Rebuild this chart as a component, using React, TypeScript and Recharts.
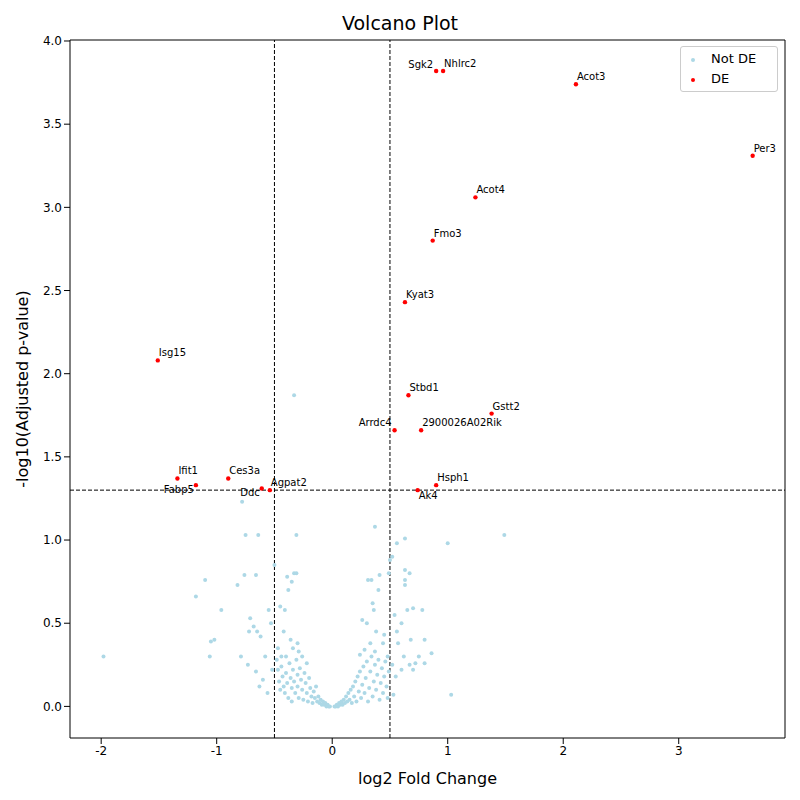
import React from 'react';
import {
    ScatterChart,
    Scatter,
    XAxis,
    YAxis,
    ReferenceLine,
} from 'recharts';

interface Gene {
    name: string;
    x: number;
    y: number;
}

const deGenes: Gene[] = [
    { name: 'Sgk2', x: 0.90, y: 3.82 },
    { name: 'Nhlrc2', x: 0.96, y: 3.82 },
    { name: 'Acot3', x: 2.11, y: 3.74 },
    { name: 'Per3', x: 3.64, y: 3.31 },
    { name: 'Acot4', x: 1.24, y: 3.06 },
    { name: 'Fmo3', x: 0.87, y: 2.80 },
    { name: 'Kyat3', x: 0.63, y: 2.43 },
    { name: 'Isg15', x: -1.51, y: 2.08 },
    { name: 'Stbd1', x: 0.66, y: 1.87 },
    { name: 'Gstt2', x: 1.38, y: 1.76 },
    { name: 'Arrdc4', x: 0.54, y: 1.66 },
    { name: '2900026A02Rik', x: 0.77, y: 1.66 },
    { name: 'Ifit1', x: -1.34, y: 1.37 },
    { name: 'Fabp5', x: -1.18, y: 1.33 },
    { name: 'Ces3a', x: -0.90, y: 1.37 },
    { name: 'Ddc', x: -0.61, y: 1.31 },
    { name: 'Agpat2', x: -0.54, y: 1.30 },
    { name: 'Hsph1', x: 0.90, y: 1.33 },
    { name: 'Ak4', x: 0.74, y: 1.30 },
];

// label placement: [dx, dy, anchor]
const labelPlacement: Record<string, [number, number, 'start' | 'end']> = {
    Sgk2: [-3, -3, 'end'],
    Arrdc4: [-3, -4, 'end'],
    Fabp5: [-2, 8, 'end'],
    Ddc: [-2, 8, 'end'],
    Ak4: [1, 9, 'start'],
};

const notDe: [number, number][] = [
    [-1.98, 0.30], [-0.33, 1.87], [-0.78, 1.23], [0.37, 1.08], [-0.75, 1.03], [-0.64, 1.03],
    [-0.31, 1.03], [1.49, 1.03], [1.0, 0.98], [0.56, 0.98], [0.63, 1.01], [-1.1, 0.76],
    [-1.18, 0.66], [-0.96, 0.58], [-1.05, 0.39], [-1.02, 0.40], [-1.06, 0.30], [-0.82, 0.73],
    [-0.76, 0.79], [-0.66, 0.79], [-0.71, 0.53], [-0.72, 0.45], [-0.65, 0.45], [-0.68, 0.48],
    [-0.62, 0.42], [-0.58, 0.30], [-0.79, 0.30], [-0.73, 0.25], [-0.66, 0.21], [-0.60, 0.16],
    [-0.63, 0.12], [-0.55, 0.58], [-0.53, 0.50], [-0.50, 0.85], [-0.45, 0.60], [-0.41, 0.58],
    [-0.38, 0.70], [-0.35, 0.75], [-0.33, 0.80], [-0.31, 0.80], [-0.39, 0.78], [-0.42, 0.45],
    [-0.36, 0.40], [-0.30, 0.38], [-0.56, 0.08], [-0.52, 0.22], [-0.47, 0.35], [-0.44, 0.30],
    [0.31, 0.76], [0.34, 0.76], [0.41, 0.79], [0.40, 0.70], [0.35, 0.62], [0.36, 0.58],
    [0.52, 0.90], [0.50, 0.88], [0.49, 0.80], [0.63, 0.76], [0.63, 0.73], [0.63, 0.82],
    [0.67, 0.80], [0.65, 0.58], [0.70, 0.59], [0.78, 0.58], [0.80, 0.40], [0.86, 0.32],
    [0.68, 0.40], [0.60, 0.50], [0.54, 0.55], [0.56, 0.45], [0.57, 0.38], [0.62, 0.30],
    [0.72, 0.26], [0.70, 0.22], [0.67, 0.25], [0.60, 0.22], [0.55, 0.18], [0.53, 0.07],
    [1.03, 0.07], [0.45, 0.43], [0.38, 0.45], [0.30, 0.50], [0.26, 0.52], [0.44, 0.38],
    [0.75, 0.30], [0.80, 0.26], [0.48, 0.30], [0.52, 0.25],
    // dense left arm
    [-0.48, 0.28], [-0.47, 0.22], [-0.46, 0.15], [-0.45, 0.10], [-0.44, 0.24], [-0.43, 0.18],
    [-0.42, 0.12], [-0.41, 0.08], [-0.40, 0.30], [-0.40, 0.20], [-0.39, 0.14], [-0.38, 0.05],
    [-0.37, 0.26], [-0.36, 0.17], [-0.35, 0.11], [-0.35, 0.03], [-0.34, 0.22], [-0.33, 0.15],
    [-0.32, 0.08], [-0.31, 0.28], [-0.30, 0.19], [-0.30, 0.12], [-0.29, 0.05], [-0.28, 0.23],
    [-0.27, 0.16], [-0.26, 0.10], [-0.25, 0.04], [-0.24, 0.20], [-0.23, 0.14], [-0.22, 0.08],
    [-0.21, 0.03], [-0.20, 0.17], [-0.19, 0.11], [-0.18, 0.06], [-0.17, 0.02], [-0.16, 0.09],
    [-0.15, 0.05], [-0.14, 0.12], [-0.13, 0.03], [-0.12, 0.06], [-0.11, 0.02], [-0.10, 0.04],
    [-0.09, 0.01], [-0.08, 0.03], [-0.07, 0.01], [-0.06, 0.02], [-0.05, 0.00], [-0.04, 0.01],
    [-0.03, 0.00], [-0.02, 0.00], [-0.26, 0.30], [-0.22, 0.26], [-0.34, 0.35], [-0.29, 0.33],
    // dense right arm
    [0.02, 0.00], [0.03, 0.00], [0.04, 0.01], [0.05, 0.00], [0.06, 0.02], [0.07, 0.01],
    [0.08, 0.03], [0.09, 0.01], [0.10, 0.04], [0.11, 0.02], [0.12, 0.06], [0.13, 0.03],
    [0.14, 0.08], [0.15, 0.04], [0.16, 0.10], [0.17, 0.02], [0.18, 0.12], [0.19, 0.06],
    [0.20, 0.15], [0.21, 0.03], [0.22, 0.18], [0.23, 0.09], [0.24, 0.21], [0.25, 0.05],
    [0.26, 0.13], [0.27, 0.24], [0.28, 0.08], [0.29, 0.17], [0.30, 0.27], [0.31, 0.03],
    [0.32, 0.11], [0.33, 0.21], [0.34, 0.30], [0.35, 0.06], [0.36, 0.15], [0.37, 0.25],
    [0.38, 0.10], [0.39, 0.19], [0.40, 0.28], [0.41, 0.04], [0.42, 0.14], [0.43, 0.23],
    [0.44, 0.08], [0.45, 0.18], [0.46, 0.27], [0.47, 0.12], [0.48, 0.05], [0.49, 0.21],
    [0.24, 0.31], [0.28, 0.34], [0.33, 0.38], [0.37, 0.33],
];

const notDeData = notDe.map(([x, y]) => ({ x, y }));

const xTicks = [-2, -1, 0, 1, 2, 3];
const yTicks = [0, 0.5, 1, 1.5, 2, 2.5, 3, 3.5, 4];
const fcCut = 0.5;
const pCut = 1.3;

const font = 'DejaVu Sans, sans-serif';

const DeShape = (props: any) => {
    const { cx, cy, payload } = props;
    const p = labelPlacement[payload.name] ?? [1, -4, 'start'];
    return (
        <g>
            <circle cx={cx} cy={cy} r={2.2} fill="red" />
            <text x={cx + p[0]} y={cy + p[1]} textAnchor={p[2]} fontSize={10} fontFamily={font} fill="#000">
                {payload.name}
            </text>
        </g>
    );
};

const NotDeShape = (props: any) => (
    <circle cx={props.cx} cy={props.cy} r={2} fill="#add8e6" />
);

export default function App() {
    return (
        <div style={{ position: 'relative', width: 800, height: 800, margin: -8, fontFamily: font, background: '#fff' }}>
            <div style={{ position: 'absolute', top: 12, width: '100%', textAlign: 'center', fontSize: 19 }}>Volcano Plot</div>
            <ScatterChart width={800} height={800} margin={{ top: 40, right: 15, bottom: 0, left: 0 }}>
                <XAxis
                    type="number"
                    dataKey="x"
                    domain={[-2.27, 3.92]}
                    ticks={xTicks}
                    allowDataOverflow
                    height={62}
                    stroke="#000"
                    tick={{ fill: '#000', fontSize: 12, fontFamily: font }}
                    label={{ value: 'log2 Fold Change', position: 'insideBottom', offset: 16, fill: '#000', fontSize: 16 }}
                />
                <YAxis
                    type="number"
                    dataKey="y"
                    domain={[-0.19, 4.006]}
                    ticks={yTicks}
                    allowDataOverflow
                    width={70}
                    stroke="#000"
                    tickFormatter={(v: number) => v.toFixed(1)}
                    tick={{ fill: '#000', fontSize: 12, fontFamily: font }}
                    label={{ value: '-log10(Adjusted p-value)', angle: -90, position: 'insideLeft', offset: 22, fill: '#000', fontSize: 16, style: { textAnchor: 'middle' } }}
                />
                <ReferenceLine x={-fcCut} stroke="#000" strokeDasharray="4 2" />
                <ReferenceLine x={fcCut} stroke="#000" strokeDasharray="4 2" />
                <ReferenceLine y={pCut} stroke="#000" strokeDasharray="4 2" />
                <Scatter data={notDeData} shape={NotDeShape} isAnimationActive={false} />
                <Scatter data={deGenes} shape={DeShape} isAnimationActive={false} />
                {/* frame */}
                <ReferenceLine y={4.006} stroke="#000" />
                <ReferenceLine x={3.92} stroke="#000" />
            </ScatterChart>
            <div style={{ position: 'absolute', left: 680, top: 46, width: 96, height: 44, border: '1px solid #ccc', borderRadius: 3, background: '#fff', fontSize: 13 }}>
                <div style={{ position: 'absolute', left: 10, top: 4 }}>
                    <span style={{ display: 'inline-block', width: 4, height: 4, borderRadius: 2, background: '#add8e6', marginRight: 16, verticalAlign: 'middle' }} />Not DE
                </div>
                <div style={{ position: 'absolute', left: 10, top: 24 }}>
                    <span style={{ display: 'inline-block', width: 4, height: 4, borderRadius: 2, background: 'red', marginRight: 16, verticalAlign: 'middle' }} />DE
                </div>
            </div>
        </div>
    );
}
